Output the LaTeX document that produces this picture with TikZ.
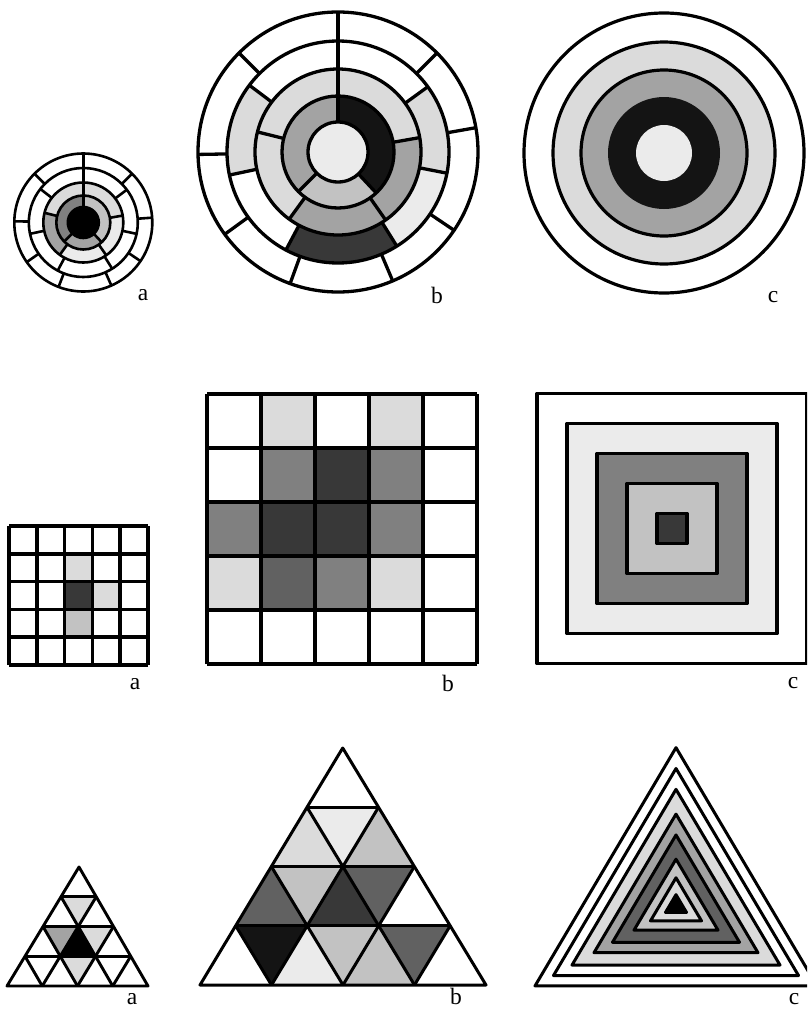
\documentclass[tikz,border=0pt]{standalone}
\usepackage{fontspec}
\setmainfont{Liberation Serif}
\newcommand\annsec[5]{\fill[#5] (#3:#2) arc[start angle=#3,end angle=#4,radius=#2] -- (#4:#1) arc[start angle=#4,end angle=#3,radius=#1] -- cycle;}
\newcommand\rdiv[3]{\draw (#3:#1) -- (#3:#2);}
\newcommand\tup[3]{\fill[#3] (#1,#2) -- ++(1,0) -- ++(-1,1) -- cycle;}
\newcommand\tdn[3]{\fill[#3] (#1+1,#2) -- ++(-1,1) -- ++(1,0) -- cycle;}
\definecolor{gA}{gray}{0.92}
\definecolor{gB}{gray}{0.86}
\definecolor{gC}{gray}{0.76}
\definecolor{gD}{gray}{0.64}
\definecolor{gE}{gray}{0.50}
\definecolor{gF}{gray}{0.38}
\definecolor{gG}{gray}{0.22}
\definecolor{gH}{gray}{0.08}
\begin{document}
\begin{tikzpicture}[x=1pt,y=1pt,line join=round,
  lbl/.style={font=\fontsize{23.5}{26}\selectfont,inner sep=0pt}]
\useasboundingbox (0,0) rectangle (807,-1009);
\clip (0,0) rectangle (807,-1009);
\fill[white] (0,0) rectangle (807,-1009);

% ---------- circle a ----------
\begin{scope}[shift={(83.3,-222.5)},line width=2.6pt]
  \annsec{27}{40}{90}{166}{gB}
  \annsec{27}{40}{10}{90}{gB}
  \annsec{27}{40}{-55}{10}{gA}
  \annsec{27}{40}{-126}{-55}{gA}
  \annsec{27}{40}{166}{234}{gD}
  \annsec{15.5}{27}{90}{225}{gE}
  \annsec{15.5}{27}{-47}{90}{gC}
  \annsec{15.5}{27}{-135}{-47}{gD}
  \fill[black] (0,0) circle[radius=15.5];
  \foreach \rad in {69,54.5,40,27,15.5} {\draw (0,0) circle[radius=\rad];}
  \foreach \ang in {90,45,4,-34,-66,-111,-145,179,135} {\rdiv{54.5}{69}{\ang}}
  \foreach \ang in {90,37,-12,-58,-118,-168,142} {\rdiv{40}{54.5}{\ang}}
  \foreach \ang in {90,10,-55,-126,166} {\rdiv{27}{40}{\ang}}
  \foreach \ang in {90,-47,-135} {\rdiv{15.5}{27}{\ang}}
\end{scope}
\node[lbl] (la1) at (143,-295) {a};

% ---------- circle b ----------
\begin{scope}[shift={(338,-152)},line width=3.3pt]
  \annsec{83}{111}{-11}{36}{gB}
  \annsec{83}{111}{-58}{-11}{gA}
  \annsec{83}{111}{-118}{-58}{gG}
  \annsec{83}{111}{143}{192}{gB}
  \annsec{56}{83}{10}{90}{gB}
  \annsec{56}{83}{-55}{10}{gD}
  \annsec{56}{83}{-126}{-55}{gD}
  \annsec{56}{83}{166}{234}{gB}
  \annsec{56}{83}{90}{166}{gB}
  \annsec{30}{56}{-47}{90}{gH}
  \annsec{30}{56}{-135}{-47}{gC}
  \annsec{30}{56}{90}{225}{gD}
  \fill[gA] (0,0) circle[radius=30];
  \foreach \rad in {140,111,83,56,30} {\draw (0,0) circle[radius=\rad];}
  \foreach \ang in {90,45,10,-34,-67,-110,-144,181,135} {\rdiv{111}{140}{\ang}}
  \foreach \ang in {90,36,-11,-58,-118,192,143} {\rdiv{83}{111}{\ang}}
  \foreach \ang in {90,10,-55,-126,166} {\rdiv{56}{83}{\ang}}
  \foreach \ang in {90,-47,-135} {\rdiv{30}{56}{\ang}}
\end{scope}
\node[lbl] (lb1) at (437,-295) {b};

% ---------- circle c ----------
\begin{scope}[shift={(664,-153)},line width=3.2pt]
  \fill[gB] (0,0) circle[radius=111];
  \fill[gD] (0,0) circle[radius=83];
  \fill[gH] (0,0) circle[radius=56];
  \fill[gA] (0,0) circle[radius=28];
  \foreach \rad in {140,111,83} {\draw (0,0) circle[radius=\rad];}
\end{scope}
\node[lbl] (lc1) at (773,-297) {c};

% ---------- grid a ----------
\begin{scope}[shift={(9,-665)},x=27.8pt,y=27.8pt,line width=3.5pt]
  \fill[gB] (2,3) rectangle (3,4);
  \fill[gG] (2,2) rectangle (3,3);
  \fill[gB] (3,2) rectangle (4,3);
  \fill[gC] (2,1) rectangle (3,2);
  \foreach \k in {0,...,5} {\draw (\k,0) -- (\k,5); \draw (0,\k) -- (5,\k);}
\end{scope}
\node[lbl] (la2) at (135,-684) {a};

% ---------- grid b ----------
\begin{scope}[shift={(207,-664)},x=54pt,y=54pt,line width=3.5pt]
  \fill[gB] (1,4) rectangle (2,5);
  \fill[gB] (3,4) rectangle (4,5);
  \fill[gE] (1,3) rectangle (2,4);
  \fill[gG] (2,3) rectangle (3,4);
  \fill[gE] (3,3) rectangle (4,4);
  \fill[gE] (0,2) rectangle (1,3);
  \fill[gG] (1,2) rectangle (2,3);
  \fill[gG] (2,2) rectangle (3,3);
  \fill[gE] (3,2) rectangle (4,3);
  \fill[gB] (0,1) rectangle (1,2);
  \fill[gF] (1,1) rectangle (2,2);
  \fill[gE] (2,1) rectangle (3,2);
  \fill[gB] (3,1) rectangle (4,2);
  \foreach \k in {0,...,5} {\draw (\k,0) -- (\k,5); \draw (0,\k) -- (5,\k);}
\end{scope}
\node[lbl] (lb2) at (448,-683) {b};

% ---------- square c ----------
\begin{scope}[shift={(672,-528.5)},line width=3.8pt]
  \filldraw[fill=white] (-135,-135) rectangle (135,135);
  \filldraw[fill=gA] (-105,-105) rectangle (105,105);
  \filldraw[fill=gE] (-75,-75) rectangle (75,75);
  \filldraw[fill=gC] (-45,-45) rectangle (45,45);
  \filldraw[fill=gG] (-15,-15) rectangle (15,15);
\end{scope}
\node[lbl] (lc2) at (793,-683) {c};

% ---------- triangle a ----------
\begin{scope}[shift={(7,-986)},x={(35.25pt,0pt)},y={(18pt,29.75pt)},line width=2.9pt]
  \tdn{1}{0}{gB}
  \tdn{0}{1}{gD}
  \tup{1}{1}{black}
  \tdn{1}{1}{gB}
  \tdn{0}{2}{gB}
  \draw (0,0) -- (4,0) -- (0,4) -- cycle;
  \foreach \k in {1,2,3} {\draw (0,\k) -- (4-\k,\k);}
  \foreach \k in {1,2,3} {\draw (\k,0) -- (0,\k);}
  \foreach \k in {1,2,3} {\draw (\k,0) -- (\k,4-\k);}
\end{scope}
\node[lbl] (la3) at (132,-999) {a};

% ---------- triangle b ----------
\begin{scope}[shift={(200,-985)},x={(71.5pt,0pt)},y={(35.675pt,59.25pt)},line width=3pt]
  \tdn{0}{0}{gH}
  \tup{1}{0}{gA}
  \tdn{1}{0}{gC}
  \tup{2}{0}{gC}
  \tdn{2}{0}{gF}
  \tup{0}{1}{gF}
  \tdn{0}{1}{gC}
  \tup{1}{1}{gG}
  \tdn{1}{1}{gF}
  \tup{0}{2}{gB}
  \tdn{0}{2}{gA}
  \tup{1}{2}{gC}
  \draw (0,0) -- (4,0) -- (0,4) -- cycle;
  \foreach \k in {1,2,3} {\draw (0,\k) -- (4-\k,\k);}
  \foreach \k in {1,2,3} {\draw (\k,0) -- (0,\k);}
  \foreach \k in {1,2,3} {\draw (\k,0) -- (\k,4-\k);}
\end{scope}
\node[lbl] (lb3) at (456,-996) {b};

% ---------- triangle c ----------
\begin{scope}[shift={(676,-906.5)},line width=3pt]
  \foreach \h/\c in {141/white,122.5/white,104/gB,82/gD,63.5/gF,42/gC,25.5/gB,10.5/black}
    {\filldraw[fill=\c] (-\h,-0.5633*\h) -- (\h,-0.5633*\h) -- (0,1.1267*\h) -- cycle;}
\end{scope}
\node[lbl] (lc3) at (794,-999) {c};
\end{tikzpicture}
\end{document}
